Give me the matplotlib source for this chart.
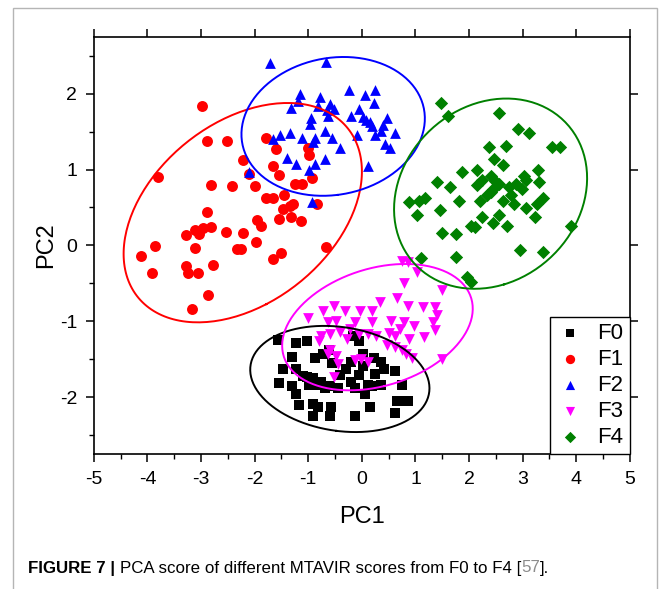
import matplotlib.pyplot as plt
import numpy as np
from matplotlib.patches import Rectangle
from matplotlib.ticker import MultipleLocator

plt.rcParams["font.family"] = ["Liberation Sans", "DejaVu Sans"]
plt.rcParams["axes.unicode_minus"] = False

# PCA scores (PC1, PC2) for each MTAVIR group
f0_x = [-1.56, -1.23, -1.02, -0.62, -0.16, -0.06, -1.31, -0.88, -0.72, -1.48,
        -1.23, -1.03, -0.91, -0.76, -0.60, -0.40, -0.21, 0.03, 0.23, 0.35,
        0.41, 0.62, 0.25, -1.55, -1.31, -1.23, -0.99, -0.80, -0.68, -0.44,
        -0.13, -0.05, 0.11, 0.19, 0.35, 0.74, -1.17, -0.91, -0.82, -0.58,
        -0.91, -0.60, -0.13, 0.16, 0.62, 0.66, 0.78, 0.86, 0.03, -0.30,
        -0.55, -1.10, 0.05, -0.20]
f0_y = [-1.25, -1.28, -1.26, -1.38, -1.19, -1.26, -1.47, -1.48, -1.43, -1.63,
        -1.63, -1.73, -1.75, -1.80, -1.85, -1.70, -1.53, -1.43, -1.48, -1.53,
        -1.63, -1.65, -1.69, -1.81, -1.85, -1.95, -1.83, -1.83, -1.88, -1.88,
        -1.88, -1.70, -1.83, -1.85, -1.83, -1.84, -2.10, -2.09, -2.12, -2.12,
        -2.25, -2.24, -2.24, -2.12, -2.21, -2.05, -2.05, -2.05, -1.58, -1.62,
        -1.55, -1.72, -1.95, -1.80]

f1_x = [-2.98, -3.81, -2.89, -2.51, -2.82, -2.43, -2.22, -2.11, -1.99, -1.78,
        -1.61, -1.66, -1.55, -1.78, -1.66, -1.45, -1.48, -1.35, -1.29, -1.25,
        -1.11, -1.01, -0.99, -0.93, -0.84, -1.32, -1.55, -1.14, -1.96, -1.88,
        -1.98, -2.22, -2.53, -2.89, -2.97, -3.11, -2.81, -3.04, -3.28, -3.11,
        -2.33, -2.25, -1.51, -1.66, -0.66, -2.77, -3.29, -3.25, -3.06, -3.86,
        -4.13, -3.91, -2.87, -3.16]
f1_y = [1.84, 0.90, 1.37, 1.38, 0.80, 0.78, 1.13, 0.94, 0.78, 1.41,
        1.27, 1.04, 0.93, 0.63, 0.63, 0.67, 0.48, 0.52, 0.54, 0.81,
        0.81, 1.28, 1.19, 0.89, 0.54, 0.38, 0.35, 0.32, 0.33, 0.26,
        0.05, 0.17, 0.18, 0.44, 0.23, 0.20, 0.24, 0.15, 0.14, -0.03,
        -0.04, -0.05, -0.10, -0.18, -0.02, -0.26, -0.27, -0.36, -0.36, -0.01,
        -0.14, -0.36, -0.65, -0.84]

f2_x = [-1.72, -0.66, -1.15, -1.19, -1.32, -0.78, -0.82, -0.60, -0.52, -0.65,
        -0.64, -0.95, -0.97, -0.24, 0.05, 0.25, 0.23, -0.05, -0.20, 0.02,
        0.07, 0.15, 0.19, 0.40, 0.47, 0.35, 0.62, 0.25, 0.43, 0.52,
        -0.09, -0.40, -0.56, -0.68, -0.88, -0.91, -1.11, -1.35, -1.53, -1.66,
        -1.39, -1.23, -0.88, -0.99, -0.68, -2.10, -0.93, 0.11]
f2_y = [2.40, 2.41, 2.00, 1.90, 1.81, 1.96, 1.84, 1.86, 1.80, 1.78,
        1.70, 1.68, 1.60, 2.05, 1.98, 2.05, 1.88, 1.79, 1.70, 1.69,
        1.65, 1.63, 1.57, 1.58, 1.68, 1.51, 1.48, 1.46, 1.33, 1.28,
        1.46, 1.28, 1.41, 1.51, 1.41, 1.36, 1.41, 1.48, 1.45, 1.40,
        1.15, 1.07, 1.07, 0.99, 1.14, 0.97, 0.57, 1.05]

f3_x = [0.74, 0.86, 1.02, 1.49, 0.78, 0.66, 0.86, 1.14, 1.37, 1.41,
        0.33, 0.19, -0.03, -0.32, -0.52, -0.72, -1.01, -0.64, -0.48, -0.13,
        0.19, 0.54, 0.78, 0.98, 1.33, 1.37, 0.71, 0.51, 0.62, 0.27,
        0.11, -0.05, -0.22, -0.40, -0.60, -0.76, -0.80, -0.28, 0.88, 1.16,
        0.47, 0.62, 0.74, 0.82, 0.93, -0.60, -0.48, -0.44, -0.13, -0.01,
        0.11, 1.49, -0.52, -0.64]
f3_y = [-0.21, -0.22, -0.35, -0.59, -0.50, -0.69, -0.79, -0.81, -0.81, -0.91,
        -0.74, -0.86, -0.86, -0.86, -0.79, -0.86, -0.96, -1.01, -0.99, -1.01,
        -1.01, -1.00, -1.01, -1.06, -1.01, -1.11, -1.10, -1.15, -1.19, -1.19,
        -1.16, -1.16, -1.10, -1.14, -1.16, -1.19, -1.26, -1.23, -1.23, -1.21,
        -1.31, -1.33, -1.38, -1.43, -1.48, -1.38, -1.46, -1.56, -1.51, -1.50,
        -1.53, -1.50, -1.73, -1.43]

f4_x = [1.47, 1.61, 2.56, 2.91, 3.11, 3.54, 3.69, 2.38, 2.69, 2.47,
        2.63, 2.14, 1.87, 1.41, 1.65, 2.14, 2.25, 2.41, 2.48, 2.56,
        2.41, 2.33, 2.45, 2.75, 2.87, 3.03, 3.07, 3.29, 3.30, 2.99,
        2.79, 2.63, 2.83, 3.07, 3.27, 3.38, 2.20, 1.81, 1.45, 0.88,
        1.06, 1.18, 1.02, 2.24, 2.56, 2.44, 2.70, 3.23, 2.04, 2.12,
        3.90, 1.49, 1.75, 2.95, 3.38, 1.75, 1.11, 1.96, 2.04]
f4_y = [1.87, 1.71, 1.75, 1.53, 1.48, 1.30, 1.30, 1.29, 1.31, 1.14,
        1.06, 1.00, 0.97, 0.84, 0.77, 0.79, 0.86, 0.91, 0.85, 0.81,
        0.71, 0.67, 0.74, 0.77, 0.81, 0.91, 0.86, 0.99, 0.84, 0.74,
        0.67, 0.59, 0.54, 0.49, 0.54, 0.62, 0.59, 0.59, 0.47, 0.57,
        0.59, 0.62, 0.40, 0.37, 0.40, 0.30, 0.25, 0.37, 0.25, 0.24,
        0.25, 0.17, 0.15, -0.06, -0.09, -0.15, -0.17, -0.42, -0.48]

labels = ["F0", "F1", "F2", "F3", "F4"]
colors = ["black", "#ff0000", "#0000ff", "#ff00ff", "#008000"]
markers = ["s", "o", "^", "v", "D"]
sizes = [42, 62, 60, 60, 46]
xs = [f0_x, f1_x, f2_x, f3_x, f4_x]
ys = [f0_y, f1_y, f2_y, f3_y, f4_y]


def confidence_ellipse(x, y, n_std=2.5, n=200):
    x = np.asarray(x)
    y = np.asarray(y)
    cov = np.cov(x, y)
    vals, vecs = np.linalg.eigh(cov)
    t = np.linspace(0, 2 * np.pi, n)
    circle = np.vstack([np.cos(t), np.sin(t)])
    pts = vecs @ np.diag(np.sqrt(vals) * n_std) @ circle
    return x.mean() + pts[0], y.mean() + pts[1]


fig = plt.figure(figsize=(6.63, 5.89), dpi=100)
ax = fig.add_axes([0.1416, 0.2284, 0.8084, 0.7096])

for x, y, lab, c, m, s in zip(xs, ys, labels, colors, markers, sizes):
    ax.scatter(x, y, marker=m, s=s, color=c, label=lab, linewidths=0, zorder=3)
    ex, ey = confidence_ellipse(x, y)
    ax.plot(ex, ey, color=c, linewidth=1.4, zorder=4)

ax.set_xlim(-5, 5)
ax.set_ylim(-2.75, 2.75)
ax.xaxis.set_major_locator(MultipleLocator(1))
ax.xaxis.set_minor_locator(MultipleLocator(0.5))
ax.yaxis.set_major_locator(MultipleLocator(1))
ax.yaxis.set_minor_locator(MultipleLocator(0.5))

for sp in ax.spines.values():
    sp.set_linewidth(1.2)

ax.tick_params(which="major", direction="out", length=6, width=1.1,
               labelsize=14, top=True, right=True, pad=6)
ax.tick_params(which="minor", direction="out", length=3.5, width=1.0,
               top=False, right=False)

ax.set_xlabel("PC1", fontsize=17, labelpad=13)
ax.set_ylabel("PC2", fontsize=17, labelpad=2)

leg = ax.legend(loc="lower right", borderaxespad=0, fontsize=16,
                fancybox=False, framealpha=1, edgecolor="black",
                labelspacing=0.22, borderpad=0.3, handletextpad=0.6,
                handlelength=1.2, markerscale=0.85)
leg.get_frame().set_linewidth(1.0)

# outer grey frame of the figure panel
fig.patches.append(Rectangle((13 / 663, -0.1), 644 / 663, 1.1 - 8 / 589,
                             transform=fig.transFigure, fill=False,
                             edgecolor="#b5b5b5", linewidth=1.0))

# caption: bold prefix followed by regular text
fig.canvas.draw()
renderer = fig.canvas.get_renderer()
cap_y = 1 - 568 / 589
cap_size = 12.2
t1 = fig.text(28 / 663, cap_y, "FIGURE 7 | ", fontsize=cap_size,
              fontweight="bold", va="center", ha="left")
bb = t1.get_window_extent(renderer)
t2 = fig.text(bb.x1 / fig.bbox.width, cap_y,
              "PCA score of different MTAVIR scores from F0 to F4 [",
              fontsize=cap_size, va="center", ha="left")
bb = t2.get_window_extent(renderer)
t3 = fig.text(bb.x1 / fig.bbox.width, cap_y, "57", fontsize=cap_size,
              color="#8c8c8c", va="center", ha="left")
bb = t3.get_window_extent(renderer)
fig.text(bb.x1 / fig.bbox.width, cap_y, "].", fontsize=cap_size,
         va="center", ha="left")

plt.savefig("out.png", dpi=100)
